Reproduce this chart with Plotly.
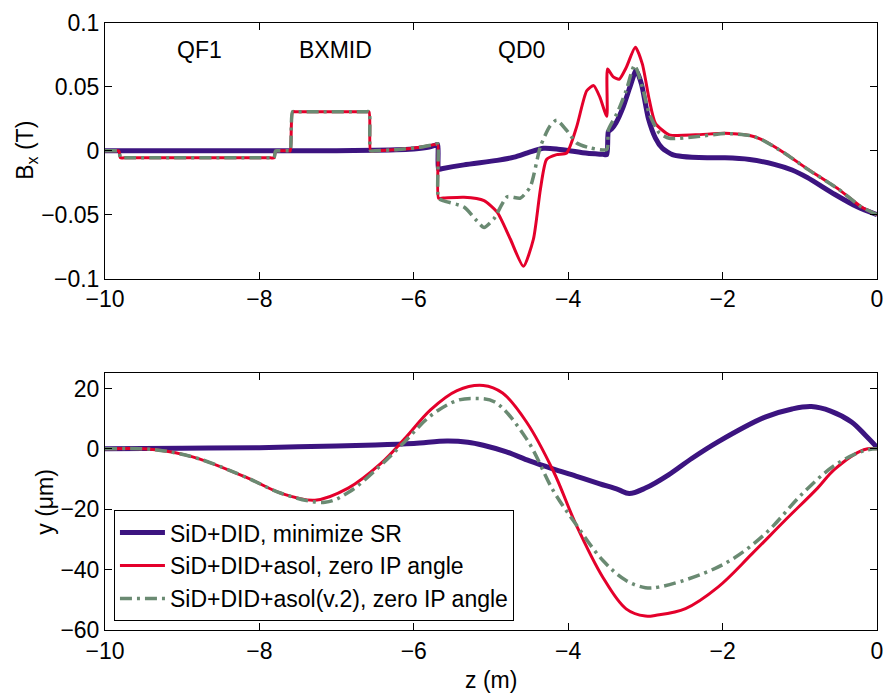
import plotly.graph_objects as go

# ---------------- data: top panel, B_x (T) ----------------
z_bx_sr = [-10, -7.0, -6.5, -6.0, -5.8, -5.72, -5.69, -5.68, -5.64, -5.35, -4.92, -4.7, -4.5, -4.32, -4.15,
           -3.98, -3.75, -3.55, -3.5, -3.48, -3.44, -3.38, -3.29, -3.2, -3.12, -3.05, -2.96, -2.87, -2.78,
           -2.65, -2.52, -2.2, -1.97, -1.65, -1.33, -1.1, -0.9, -0.55, -0.25, 0]
bx_sr = [0, 0, 0.0005, 0.0015, 0.003, 0.0045, 0.005, -0.0145, -0.014, -0.011, -0.0075, -0.005, -0.001, 0.002, 0.0015,
         0.0, -0.002, -0.0028, -0.003, 0.015, 0.017, 0.022, 0.034, 0.05, 0.063, 0.052, 0.025, 0.01, 0.002,
         -0.003, -0.0045, -0.0055, -0.0055, -0.0068, -0.0106, -0.015, -0.021, -0.034, -0.044, -0.05]

z_bx_asol = [-10, -9.87, -9.82, -9.8, -9.75, -7.86, -7.81, -7.79, -7.74, -7.62, -7.6, -7.57, -7.52,
             -6.63, -6.58, -6.56, -6.51, -6.2, -5.9, -5.72, -5.69, -5.68, -5.62,
             -5.35, -5.09, -4.92, -4.75, -4.58, -4.45, -4.36, -4.28, -4.15, -4.02, -3.89, -3.76,
             -3.67, -3.59, -3.5, -3.49, -3.42, -3.34, -3.25, -3.13, -3.04, -2.95, -2.87, -2.69,
             -2.35, -1.97, -1.65, -1.5, -1.2, -0.9, -0.5, -0.2, 0]
bx_asol = [0, 0, 0, -0.0055, -0.0055, -0.0055, -0.0055, 0, 0, 0, 0, 0.0305, 0.0305,
           0.0305, 0.0305, 0, 0, 0.001, 0.003, 0.005, 0.0055, -0.037, -0.037,
           -0.0364, -0.039, -0.048, -0.069, -0.0904, -0.069, -0.030, -0.0068, -0.003, -0.0017, 0.0189, 0.047,
           0.051, 0.042, 0.027, 0.064, 0.058, 0.056, 0.065, 0.081, 0.068, 0.040, 0.0215, 0.0125,
           0.0125, 0.0138, 0.012, 0.009, -0.0017, -0.0143, -0.03, -0.044, -0.05]

z_bx_v2 = [-10, -9.87, -9.82, -9.8, -9.75, -7.86, -7.81, -7.79, -7.74, -7.62, -7.6, -7.57, -7.52,
           -6.63, -6.58, -6.56, -6.51, -6.2, -5.9, -5.72, -5.69, -5.68, -5.62,
           -5.35, -5.18, -5.09, -4.96, -4.79, -4.62, -4.49, -4.36, -4.24, -4.15, -4.02, -3.89,
           -3.72, -3.5, -3.48, -3.37, -3.25, -3.14, -3.04, -2.95, -2.82, -2.69, -2.35, -1.97,
           -1.65, -1.5, -1.2, -0.9, -0.5, -0.2, 0]
bx_v2 = [0, 0, 0, -0.0055, -0.0055, -0.0055, -0.0055, 0, 0, 0, 0, 0.0305, 0.0305,
         0.0305, 0.0305, 0, 0, 0.001, 0.003, 0.005, 0.0055, -0.037, -0.039,
         -0.044, -0.055, -0.060, -0.053, -0.036, -0.037, -0.028, 0.0033, 0.019, 0.024, 0.016, 0.0061,
         0.0023, 0.001, 0.0164, 0.029, 0.047, 0.067, 0.050, 0.029, 0.014, 0.0098, 0.011, 0.0135,
         0.012, 0.009, -0.0017, -0.0143, -0.03, -0.044, -0.05]

# ---------------- data: bottom panel, y (um) ----------------
z_y_sr = [-10, -9, -8, -7.5, -6.5, -6.0, -5.57, -5.3, -5.1, -4.8, -4.5, -4.2, -3.9, -3.6, -3.35,
          -3.21, -3.0, -2.7, -2.4, -2.06, -1.45, -1.1, -0.85, -0.6, -0.33, -0.15, 0]
y_sr = [0, 0.2, 0.4, 0.7, 1.3, 1.8, 2.6, 2.2, 1.2, -1.0, -4.0, -6.6, -9.0, -11.5, -13.5,
        -14.8, -13.0, -8.6, -3.2, 2.3, 10.5, 13.2, 14.0, 12.5, 8.9, 4.5, 0.5]

z_y_asol = [-10, -9.5, -9.2, -8.78, -8.14, -7.71, -7.28, -6.85, -6.43, -6.12, -5.78, -5.44, -5.1,
            -4.85, -4.54, -4.19, -3.9, -3.55, -3.25, -3.0, -2.86, -2.48, -2.06, -1.62, -1.2,
            -0.77, -0.55, -0.17, 0]
y_asol = [0, 0, -0.8, -3.3, -9.8, -14.8, -17, -13, -4.9, 3.3, 13, 19.3, 21,
          18.5, 8.9, -7.5, -25, -42.6, -53, -55.4, -55.1, -52.9, -45.8, -34.8, -23.9,
          -13, -6.8, -0.3, 0]

z_y_v2 = [-10, -9.5, -9.2, -8.78, -8.14, -7.71, -7.15, -6.85, -6.43, -6.12, -5.78, -5.44, -5.22,
          -4.95, -4.54, -4.19, -3.9, -3.55, -3.25, -3.0, -2.83, -2.26, -1.84, -1.41, -0.98,
          -0.55, -0.17, 0]
y_v2 = [0, 0, -0.8, -3.3, -9.8, -14.8, -17.7, -14.5, -5.5, 2.3, 11, 16, 16.7,
        15.5, 3.3, -14, -25, -37, -43.6, -46, -45.8, -41.4, -36, -27.2, -15.2,
        -5.5, -0.6, 0]

names = ["SiD+DID, minimize SR", "SiD+DID+asol, zero IP angle", "SiD+DID+asol(v.2), zero IP angle"]
magnets = ["QF1", "BXMID", "QD0"]
magnet_z = [-8.78, -7.02, -4.6]
magnet_y = [0.079, 0.079, 0.079]

x_ticks = [-10, -8, -6, -4, -2, 0]
bx_ticks = [-0.1, -0.05, 0, 0.05, 0.1]
bx_ticktext = ["\u22120.1", "\u22120.05", "0", "0.05", "0.1"]
y_ticks = [-60, -40, -20, 0, 20]

BLUE = "#3c1480"
RED = "#e4002b"
GREEN = "#6a8a72"
FONT = "Liberation Sans, Arial, Helvetica, sans-serif"
FS = 23
LFS = 23

fig = go.Figure()

styles = [
    dict(color=BLUE, width=5),
    dict(color=RED, width=3),
    dict(color=GREEN, width=3.5, dash="12px,5px,3px,5px"),
]

top = [(z_bx_sr, bx_sr), (z_bx_asol, bx_asol), (z_bx_v2, bx_v2)]
bot = [(z_y_sr, y_sr), (z_y_asol, y_asol), (z_y_v2, y_v2)]

for i, (zz, vv) in enumerate(top):
    fig.add_trace(go.Scatter(x=zz, y=vv, mode="lines",
                             line=dict(**styles[i], shape="spline", smoothing=0.6),
                             showlegend=False, xaxis="x", yaxis="y"))
for i, (zz, vv) in enumerate(bot):
    fig.add_trace(go.Scatter(x=zz, y=vv, mode="lines",
                             line=dict(**styles[i], shape="spline", smoothing=1.0),
                             name=names[i], xaxis="x2", yaxis="y2"))

axis_common = dict(showline=True, linecolor="black", linewidth=1, mirror="allticks",
                   ticks="inside", ticklen=7, tickcolor="black", tickwidth=1,
                   showgrid=False, zeroline=False,
                   tickfont=dict(family=FONT, size=FS, color="black"))

fig.update_layout(
    width=893, height=694,
    margin=dict(l=105, r=10, t=15, b=64),
    paper_bgcolor="white", plot_bgcolor="white",
    font=dict(family=FONT, size=FS, color="black"),
    xaxis=dict(domain=[0, 1], range=[-10, 0], tickvals=x_ticks, anchor="y", **axis_common),
    yaxis=dict(domain=[0.5789, 1], range=[-0.1, 0.1], tickvals=bx_ticks, ticktext=bx_ticktext,
               anchor="x", **axis_common),
    xaxis2=dict(domain=[0, 1], range=[-10, 0], tickvals=x_ticks, anchor="y2", **axis_common),
    yaxis2=dict(domain=[0, 0.4228], range=[-60, 25], tickvals=y_ticks, anchor="x2", **axis_common),
    legend=dict(x=0.0116, y=0.0146, xanchor="left", yanchor="bottom",
                bordercolor="black", borderwidth=1, bgcolor="white",
                font=dict(family=FONT, size=LFS, color="black"),
                itemwidth=45, tracegroupgap=0),
    showlegend=True,
)

for name, mz, my in zip(magnets, magnet_z, magnet_y):
    fig.add_annotation(x=mz, y=my, xref="x", yref="y", text=name, showarrow=False,
                       font=dict(family=FONT, size=FS, color="black"))

fig.add_annotation(x=0, y=0.7894, xref="paper", yref="paper", text="B<sub>x</sub> (T)",
                   textangle=-90, showarrow=False, xanchor="center", yanchor="middle", xshift=-78,
                   font=dict(family=FONT, size=FS, color="black"))
fig.add_annotation(x=0, y=0.2114, xref="paper", yref="paper", text="y (\u03bcm)",
                   textangle=-90, showarrow=False, xanchor="center", yanchor="middle", xshift=-60,
                   font=dict(family=FONT, size=FS, color="black"))
fig.add_annotation(x=0.5, y=0, xref="paper", yref="paper", text="z (m)",
                   showarrow=False, xanchor="center", yanchor="middle", yshift=-50,
                   font=dict(family=FONT, size=FS, color="black"))

fig.write_html("out.html")
